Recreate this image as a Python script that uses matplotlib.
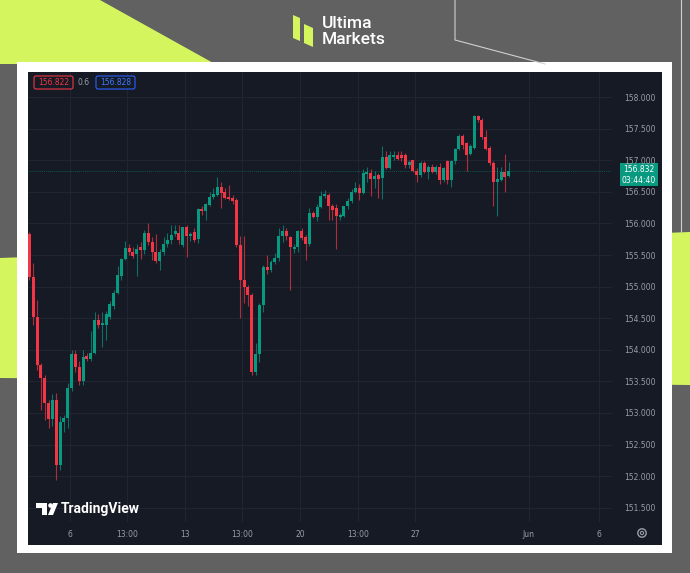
import numpy as np
import matplotlib
matplotlib.use("Agg")
import matplotlib.pyplot as plt
from matplotlib.patches import Polygon, Rectangle, FancyBboxPatch, Circle

# 4h candles (open / high / low / close)
opens = [155.84, 155.15, 154.52, 153.76, 153.55, 153.16, 152.91, 153.20, 152.18, 152.86,
         152.92, 153.40, 153.93, 153.73, 153.50, 153.90, 153.85, 153.95, 154.47, 154.40,
         154.40, 154.52, 154.70, 154.90, 155.17, 155.44, 155.61, 155.55, 155.52, 155.63,
         155.58, 155.85, 155.71, 155.55, 155.41, 155.54, 155.68, 155.73, 155.84, 155.85,
         155.66, 155.94, 155.80, 155.87, 155.75,
         156.23, 156.19, 156.29, 156.42, 156.45, 156.58, 156.50, 156.42, 156.40, 156.37,
         155.66, 155.10, 155.00, 154.87, 153.65, 153.93, 154.71, 155.31, 155.26, 155.39,
         155.45, 155.80, 155.88, 155.79, 155.60, 155.62, 155.88, 155.78, 155.68, 156.16,
         156.10, 156.26, 156.43, 156.45, 156.27, 156.24, 156.10, 156.12, 156.27, 156.36,
         156.50, 156.56,
         156.48, 156.78, 156.80, 156.71, 156.76, 156.72, 157.05, 156.87, 157.05, 157.09,
         157.08, 157.08, 156.92, 157.00, 156.83, 156.77, 156.96, 156.82, 156.90, 156.82,
         156.90, 156.68, 156.99, 156.68, 156.98, 157.17, 157.38, 157.27, 157.10, 157.19,
         157.70, 157.64, 157.37, 157.19, 156.95, 156.65, 156.69, 156.82, 156.75]
highs = [155.86, 155.37, 154.79, 153.79, 153.60, 153.20, 153.30, 153.32, 152.95, 152.97,
         153.47, 154.00, 154.00, 153.83, 154.00, 153.95, 154.30, 154.60, 154.57, 154.60,
         154.62, 154.78, 154.95, 155.33, 155.45, 155.72, 155.67, 155.63, 155.68, 155.71,
         155.90, 156.00, 155.79, 155.84, 155.60, 155.79, 155.85, 155.97, 155.97, 155.97,
         155.95, 155.97, 155.87, 155.92, 156.25,
         156.27, 156.33, 156.50, 156.56, 156.74, 156.66, 156.56, 156.60, 156.45, 156.40,
         155.80, 155.80, 155.03, 154.90, 154.10, 154.74, 155.34, 155.50, 155.42, 155.53,
         155.92, 155.97, 155.93, 155.80, 155.68, 155.90, 155.93, 155.82, 156.24, 156.20,
         156.30, 156.51, 156.53, 156.48, 156.31, 156.30, 156.16, 156.19, 156.40, 156.55,
         156.66, 156.62,
         156.86, 156.89, 156.86, 156.83, 156.80, 157.23, 157.14, 157.14, 157.14, 157.14,
         157.14, 157.11, 157.00, 157.01, 156.87, 156.98, 156.98, 156.93, 156.94, 156.93,
         156.95, 156.90, 157.01, 157.01, 157.20, 157.42, 157.41, 157.29, 157.26, 157.72,
         157.72, 157.67, 157.48, 157.22, 156.98, 156.90, 156.90, 157.10, 156.97]
lows = [155.10, 154.39, 153.68, 153.05, 152.89, 152.76, 152.80, 151.94, 152.10, 152.70,
        152.76, 153.35, 153.65, 153.45, 153.45, 153.82, 153.82, 153.93, 154.35, 154.05,
        154.15, 154.48, 154.65, 154.88, 155.10, 155.42, 155.50, 155.45, 155.16, 155.44,
        155.52, 155.66, 155.42, 155.38, 155.26, 155.50, 155.63, 155.67, 155.80, 155.68,
        155.62, 155.47, 155.72, 155.70, 155.69,
        156.14, 156.05, 156.27, 156.39, 156.43, 156.24, 156.38, 156.37, 156.30, 155.63,
        154.50, 154.74, 154.70, 153.60, 153.60, 153.80, 154.60, 155.20, 155.23, 155.36,
        155.40, 155.70, 155.73, 154.95, 155.53, 155.55, 155.73, 155.42, 155.65, 156.08,
        156.04, 156.24, 156.40, 156.06, 156.06, 155.60, 156.06, 156.10, 156.23, 156.33,
        156.48, 156.37,
        156.47, 156.66, 156.44, 156.56, 156.40, 156.38, 156.86, 156.86, 157.00, 157.00,
        156.98, 156.88, 156.88, 156.82, 156.65, 156.74, 156.80, 156.70, 156.80, 156.78,
        156.62, 156.66, 156.62, 156.57, 156.94, 157.16, 157.17, 156.83, 157.08, 157.18,
        157.60, 157.34, 157.16, 156.92, 156.27, 156.11, 156.67, 156.50, 156.73]
closes = [155.15, 154.52, 153.76, 153.55, 153.16, 152.91, 153.20, 152.18, 152.86, 152.92,
          153.40, 153.93, 153.73, 153.50, 153.88, 153.85, 153.95, 154.47, 154.40, 154.43,
          154.57, 154.72, 154.90, 155.18, 155.44, 155.61, 155.54, 155.48, 155.60, 155.58,
          155.85, 155.71, 155.55, 155.41, 155.54, 155.68, 155.73, 155.82, 155.88, 155.74,
          155.94, 155.80, 155.83, 155.74, 156.23,
          156.19, 156.31, 156.42, 156.47, 156.58, 156.48, 156.40, 156.39, 156.35, 155.66,
          155.10, 155.00, 154.87, 153.65, 153.93, 154.71, 155.31, 155.26, 155.39, 155.46,
          155.80, 155.88, 155.80, 155.62, 155.63, 155.88, 155.77, 155.68, 156.16, 156.10,
          156.26, 156.43, 156.46, 156.27, 156.22, 156.12, 156.13, 156.27, 156.36, 156.50,
          156.56, 156.48,
          156.80, 156.82, 156.71, 156.75, 156.70, 157.05, 156.87, 157.08, 157.09, 157.02,
          157.03, 156.92, 156.97, 156.83, 156.77, 156.96, 156.82, 156.90, 156.82, 156.90,
          156.68, 156.87, 156.68, 156.98, 157.17, 157.38, 157.24, 157.08, 157.22, 157.70,
          157.64, 157.37, 157.17, 156.95, 156.65, 156.70, 156.82, 156.74, 156.83]

time_ticks = [10.6, 25.5, 40.6, 55.4, 70.6, 85.7, 100.6, 130.2, 148.6]
time_labels = ["6", "13:00", "13", "13:00", "20", "13:00", "27", "Jun", "6"]
price_ticks = [151.5, 152.0, 152.5, 153.0, 153.5, 154.0, 154.5, 155.0, 155.5,
               156.0, 156.5, 157.0, 157.5, 158.0]
last_price = 156.832

UP = "#089981"
DOWN = "#f23645"
DARK = "#161a25"
LIME = "#d4f55e"
GRAY = "#616161"
TXT = "#9a9da6"

W, H = 690, 573
fig = plt.figure(figsize=(W / 100, H / 100), dpi=100)
fig.patch.set_facecolor(GRAY)

# background decoration, in pixel coordinates
bg = fig.add_axes([0, 0, 1, 1], zorder=0)
bg.set_xlim(0, W)
bg.set_ylim(H, 0)
bg.axis("off")
bg.add_patch(Polygon([(0, 0), (100, 0), (215, 64), (0, 64)], color=LIME, lw=0))
bg.add_patch(Polygon([(0, 258), (690, 232), (690, 385), (0, 378)], color=LIME, lw=0))
bg.plot([455, 455, 545], [0, 40, 64], color="#d0d0d0", lw=0.8)
bg.plot([681, 681], [0, 232], color="#d0d0d0", lw=0.8)

# logo
bg.add_patch(Polygon([(293, 15), (300, 18), (300, 41), (293, 38)], color=LIME, lw=0))
bg.add_patch(Polygon([(304, 24), (313, 28), (313, 47), (304, 43)], color=LIME, lw=0))
bg.text(322, 23, "Ultima", color="white", fontsize=12.5, family="Roboto",
        fontweight="medium", va="center", ha="left")
bg.text(322, 40, "Markets", color="white", fontsize=12.5, family="Roboto",
        fontweight="medium", va="center", ha="left")

# white frame and dark chart panel
bg.add_patch(Rectangle((17, 62), 655, 491, color="white", lw=0))
bg.add_patch(Rectangle((28, 72), 634, 473, color=DARK, lw=0))

# gear icon
bg.add_patch(Circle((642, 533), 4.2, fc="none", ec=TXT, lw=1.0))
bg.add_patch(Circle((642, 533), 1.6, fc="none", ec=TXT, lw=0.8))

# current price tag
bg.add_patch(Rectangle((620, 163), 38, 23, color=UP, lw=0))
bg.text(639, 170, "156.832", color="white", fontsize=5.5, ha="center", va="center")
bg.text(639, 180.5, "03:44:40", color="white", fontsize=5.5, ha="center", va="center")

# candlestick chart
ax = fig.add_axes([28 / W, 1 - 522 / H, 584 / W, 450 / H], zorder=1)
ax.set_facecolor(DARK)
x = np.arange(len(opens))
o = np.array(opens)
c = np.array(closes)
up = c >= o
cols = np.where(up, UP, DOWN)
ax.vlines(x, lows, highs, colors=cols, lw=0.8, alpha=0.7, zorder=2)
body = np.maximum(np.abs(c - o), 0.015)
ax.bar(x, body, bottom=np.minimum(o, c), width=0.78, color=cols, lw=0, zorder=3)
ax.axhline(last_price, color=UP, lw=0.7, alpha=0.45, ls=(0, (1, 1)), zorder=1)

ax.set_xlim(-0.35, 151.9)
ax.set_ylim(151.275, 158.396)
ax.set_xticks(time_ticks)
ax.set_xticklabels(time_labels)
ax.set_yticks(price_ticks)
ax.set_yticklabels([f"{p:.3f}" for p in price_ticks])
ax.yaxis.tick_right()
ax.tick_params(axis="y", length=0, pad=8.5, labelsize=5.5, labelcolor=TXT)
ax.tick_params(axis="x", length=0, pad=6, labelsize=5.5, labelcolor=TXT)
ax.grid(True, color="#222632", lw=0.7)
ax.set_axisbelow(True)
for s in ax.spines.values():
    s.set_visible(False)

# overlay for things drawn on top of the chart
fg = fig.add_axes([0, 0, 1, 1], zorder=2)
fg.set_xlim(0, W)
fg.set_ylim(H, 0)
fg.axis("off")
fg.patch.set_alpha(0)

# legend boxes top-left
fg.add_patch(FancyBboxPatch((34, 76), 39, 13, boxstyle="round,pad=0,rounding_size=2",
                            fc=DARK, ec=DOWN, lw=0.8))
fg.text(53.5, 82.5, "156.822", color=DOWN, fontsize=5.5, ha="center", va="center")
fg.text(84, 82.5, "0.6", color=TXT, fontsize=5.5, ha="center", va="center")
fg.add_patch(FancyBboxPatch((96, 76), 39, 13, boxstyle="round,pad=0,rounding_size=2",
                            fc=DARK, ec="#2962ff", lw=0.8))
fg.text(115.5, 82.5, "156.828", color="#3d7bff", fontsize=5.5, ha="center", va="center")

# TradingView mark
fg.add_patch(Polygon([(36, 503), (47, 503), (47, 515), (42, 515), (42, 508), (36, 508)],
                     color="white", lw=0))
fg.add_patch(Circle((50.5, 505.5), 2.3, color="white", lw=0))
fg.add_patch(Polygon([(53, 503), (58, 503), (53, 515), (48, 515)], color="white", lw=0))
fg.text(61, 509, "TradingView", color="white", fontsize=10, family="Roboto",
        fontweight="bold", ha="left", va="center")

fig.savefig("out.png", dpi=100, facecolor=fig.get_facecolor())
